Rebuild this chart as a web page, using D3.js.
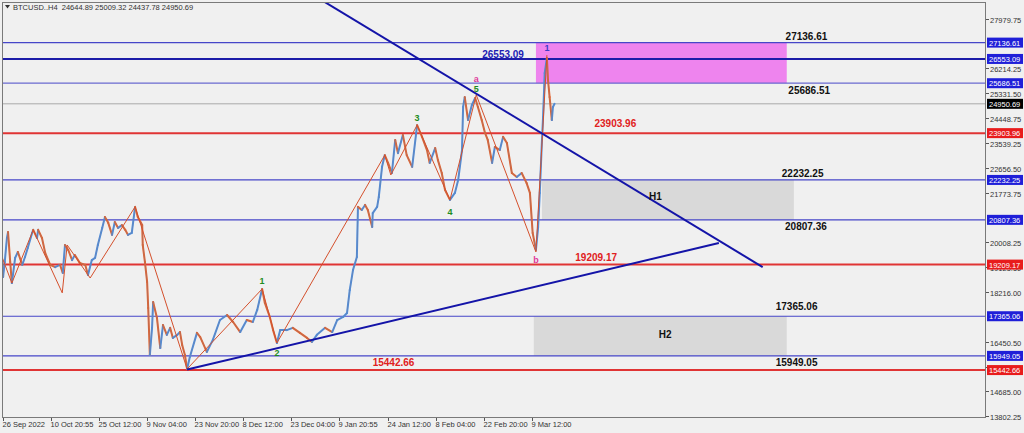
<!DOCTYPE html>
<html><head><meta charset="utf-8">
<script src="https://cdn.jsdelivr.net/npm/d3@7"></script>
<style>
html,body{margin:0;padding:0;background:#f0f0f0;}
svg{display:block;font-family:"Liberation Sans",Arial,sans-serif;}
</style></head>
<body>
<svg id="c" width="1024" height="433"></svg>
<script>
// ---------- DATA ----------
const priceBars = [0,2,5,9,11,15,18,24,29,37,42,47,55,57,64,66,73,79,88,97,106,111,115,121,128,133,142,152,157,164,170,175,183,188,194,201,206,212,219,225,230,237,243,248,256,257,261,265,267,270,274,276,283,289,294,301,307,312,320,325,329,334,338,343,356,362,374,385,398,411,422,435,447,458,466,475,480,489,495,502,508,520,531,544,557,566,575,590,603,612,623,630,635,641,648,650,657,663,668,676,677,685,688,694,699,705,712,718,723,732,739,749,758,767,776,781,791,796,803,809,818,827,833,840,842,845,851,858,864,869,876,882,887,895,900,909,915,922,931,940,949,958,964,969,975,979,982,986,988,991,995,997,1000,1004,1006,1009];
const priceValues = [19480,18770,19300,20160,20370,19300,18550,19450,19660,19200,19480,19800,20340,20450,20160,20450,20160,19620,19200,19120,19200,18910,19910,19730,19370,19550,19270,19200,18840,19370,19450,19910,20520,20910,20700,20270,20730,20520,20620,20450,20270,20340,21270,20910,20620,19910,19300,18590,17660,15980,16950,17870,17300,16230,17050,16700,16950,16590,16700,16800,16340,15980,15480,15910,16770,16620,16090,16520,17230,17410,17160,16800,17230,17160,17590,18340,17840,17340,16870,16410,16870,16870,16950,16770,16590,16450,16700,16950,16800,17230,17340,17480,18300,19020,19480,21270,21160,21340,21160,20550,21050,21270,21620,22700,23120,22840,22480,23660,23190,23840,23120,22700,24190,23770,23300,22840,23370,22940,22480,21870,21520,21770,22230,23300,24840,25190,24370,24910,25160,24840,24370,23910,23660,22840,23410,23300,23770,23550,22480,22340,22480,22120,21770,20340,19730,20550,21770,23660,24480,26050,26590,25800,25190,24370,24840,24950.69];

const zigzagBars   = [0,18,57,110,119,161,243,338,475,502,699,710,758,818,866,975,995];
const zigzagValues = [19480,18550,20450,18200,19910,18730,21270,15480,18340,16410,23120,22410,24190,21520,25270,19660,26690];

const levelValues = [27136.61,26553.09,25686.51,24950.69,23903.96,22232.25,20807.36,19209.17,17365.06,15949.05,15442.66];
const levelKinds  = ["blue","navy","blueLight","current","red","blue","blue","red","blue","blue","red"];

const yTickValues = ["27979.75","26214.25","25331.50","24448.75","23539.25","22656.50","21773.75","20008.25","19125.50","18216.00","16450.50","15567.75","14685.00","13802.25"];

const xTickBars   = [2,90,177,265,353,440,528,616,705,792,880,968];
const xTickLabels = ["26 Sep 2022","10 Oct 20:55","25 Oct 12:00","9 Nov 04:00","23 Nov 20:00","8 Dec 12:00","23 Dec 04:00","9 Jan 20:55","24 Jan 12:00","8 Feb 04:00","22 Feb 20:00","9 Mar 12:00"];

const zoneNames = ["target","H1","H2"];
const zoneBar0  = [975,986,971];
const zoneBar1  = [1433,1446,1433];
const zoneTop   = [27136.61,22232.25,17365.06];
const zoneBot   = [25686.51,20807.36,15949.05];

const trendNames = ["down","up"];
const trendBar0  = [589,338];
const trendVal0  = [28590,15460];
const trendBar1  = [1389,1309];
const trendVal1  = [19120,19980];

const noteTexts = ["26553.09","27136.61","25686.51","23903.96","22232.25","20807.36","19209.17","17365.06","15949.05","15442.66","H1","H2"];
const noteBars  = [915,1469,1474,1120,1462,1468,1085,1451,1451,715,1193,1211];
const noteVals  = [26553.09,27136.61,25686.51,23903.96,22232.25,20807.36,19209.17,17365.06,15949.05,15442.66,21660,16730];
const noteKinds = ["blue","black","black","red","black","black","red","black","black","red","black","black"];

const waveTexts = ["1","2","3","4","5","a","b","1"];
const waveBars  = [475,502,758,818,866,866,975,995];
const waveVals  = [18340,16410,24190,21520,25270,25270,19660,26690];
const waveKinds = ["green","green","green","green","green","pink","pink","purple"];

const headerText = "BTCUSD..H4  24644.89 25009.32 24437.78 24950.69";

// ---------- DRAW ----------
const svg = d3.select("#c");
const L = 2, R = 985, T = 2, B = 417;
const x = d3.scaleLinear().domain([0,1795]).range([L,R]);
const y = d3.scaleLinear().domain([13802.25,27979.75]).range([416,19]);

svg.append("rect").attr("width",1024).attr("height",433).attr("fill","#f0f0f0");
svg.append("defs").append("clipPath").attr("id","clip")
  .append("rect").attr("x",L+1).attr("y",T+1).attr("width",R-L-1).attr("height",B-T-1);
const g = svg.append("g").attr("clip-path","url(#clip)");

const levelStyle = {
  blue:{c:"#4646c8",w:1.2}, navy:{c:"#1c1ca8",w:2}, blueLight:{c:"#6a6ad0",w:1.2},
  current:{c:"#a9a9a9",w:1}, red:{c:"#e03434",w:2}
};
const boxFill = {blue:"#1f1fd8",navy:"#1f1fd8",blueLight:"#1f1fd8",current:"#000000",red:"#e81c1c"};

// zones
const zoneFill = {target:"#ee84ee",H1:"#d9d9d9",H2:"#d9d9d9"};
zoneNames.forEach((n,i)=>{
  g.append("rect").attr("x",x(zoneBar0[i])).attr("y",y(zoneTop[i]))
   .attr("width",x(zoneBar1[i])-x(zoneBar0[i])).attr("height",y(zoneBot[i])-y(zoneTop[i]))
   .attr("fill",zoneFill[n]);
});

// levels
levelValues.forEach((v,i)=>{
  const s = levelStyle[levelKinds[i]];
  g.append("line").attr("x1",L).attr("x2",R).attr("y1",y(v)).attr("y2",y(v))
   .attr("stroke",s.c).attr("stroke-width",s.w);
});

// price line (segments colored by direction)
const pts = priceBars.map((b,i)=>[x(b),y(priceValues[i])]);
for(let i=1;i<pts.length;i++){
  const up = priceValues[i] >= priceValues[i-1];
  g.append("line").attr("x1",pts[i-1][0]).attr("y1",pts[i-1][1]).attr("x2",pts[i][0]).attr("y2",pts[i][1])
   .attr("stroke", up ? "#4a8ee0" : "#e4622c").attr("stroke-width",2).attr("stroke-linecap","round");
}
g.append("path").datum(priceBars.map((b,i)=>[b,priceValues[i]]))
 .attr("d",d3.line().x(d=>x(d[0])).y(d=>y(d[1])))
 .attr("fill","none").attr("stroke","#8a7a8a").attr("stroke-width",0.7).attr("opacity",0.6);

// zigzag
g.append("path").datum(zigzagBars.map((b,i)=>[b,zigzagValues[i]]))
 .attr("d",d3.line().x(d=>x(d[0])).y(d=>y(d[1])))
 .attr("fill","none").attr("stroke","#d4502c").attr("stroke-width",1);

// trend lines
trendNames.forEach((n,i)=>{
  g.append("line").attr("x1",x(trendBar0[i])).attr("y1",y(trendVal0[i]))
   .attr("x2",x(trendBar1[i])).attr("y2",y(trendVal1[i]))
   .attr("stroke","#1414a8").attr("stroke-width",2);
});

// notes
const noteColor = {blue:"#1c1cb4",black:"#111111",red:"#e02020"};
const noteDy = [-1,-3,11,-6,-3,10,-4,-6,10,-4,4,4];
noteTexts.forEach((t,i)=>{
  g.append("text").attr("x",x(noteBars[i])).attr("y",y(noteVals[i])+noteDy[i])
   .attr("text-anchor","middle").attr("font-size","10px").attr("font-weight","bold")
   .attr("fill",noteColor[noteKinds[i]]).text(t);
});

// wave labels
const waveColor = {green:"#1e8c1e",pink:"#e0389a",purple:"#3c3cc8"};
const waveDy = [-5,13,-4,15,-3,-13,11,-4];
waveTexts.forEach((t,i)=>{
  g.append("text").attr("x",x(waveBars[i])).attr("y",y(waveVals[i])+waveDy[i])
   .attr("text-anchor","middle").attr("font-size","9px").attr("font-weight","bold")
   .attr("fill",waveColor[waveKinds[i]]).text(t);
});

// frame
svg.append("rect").attr("x",L+0.5).attr("y",T+0.5).attr("width",R-L).attr("height",B-T)
  .attr("fill","none").attr("stroke","#7a7a7a").attr("stroke-width",1);

// y axis ticks
const ya = svg.append("g");
yTickValues.forEach(t=>{
  const yy = Math.round(y(+t))+0.5;
  ya.append("line").attr("x1",R+1).attr("x2",R+4).attr("y1",yy).attr("y2",yy).attr("stroke","#555");
  ya.append("text").attr("x",R+5).attr("y",yy+3).attr("font-size","7.5px").attr("fill","#333").text(t);
});
// price boxes
levelValues.forEach((v,i)=>{
  const yy = y(v);
  ya.append("rect").attr("x",R+2).attr("y",yy-5).attr("width",36).attr("height",10).attr("fill",boxFill[levelKinds[i]]);
  ya.append("text").attr("x",R+4).attr("y",yy+3).attr("font-size","7.5px").attr("fill","#ffffff").text(v.toFixed(2));
});

// x axis
const xa = svg.append("g");
xTickBars.forEach((b,i)=>{
  const xx = Math.round(x(b))+0.5;
  xa.append("line").attr("x1",xx).attr("x2",xx).attr("y1",B+1).attr("y2",B+4).attr("stroke","#555");
  xa.append("text").attr("x",xx-1).attr("y",B+10).attr("font-size","7.5px").attr("fill","#333").text(xTickLabels[i]);
});

// header
svg.append("path").attr("d","M5,5 L10,5 L7.5,8.5 Z").attr("fill","#333");
svg.append("text").attr("x",13).attr("y",10).attr("font-size","7.5px").attr("fill","#333").attr("xml:space","preserve").text(headerText);
</script>
</body></html>
